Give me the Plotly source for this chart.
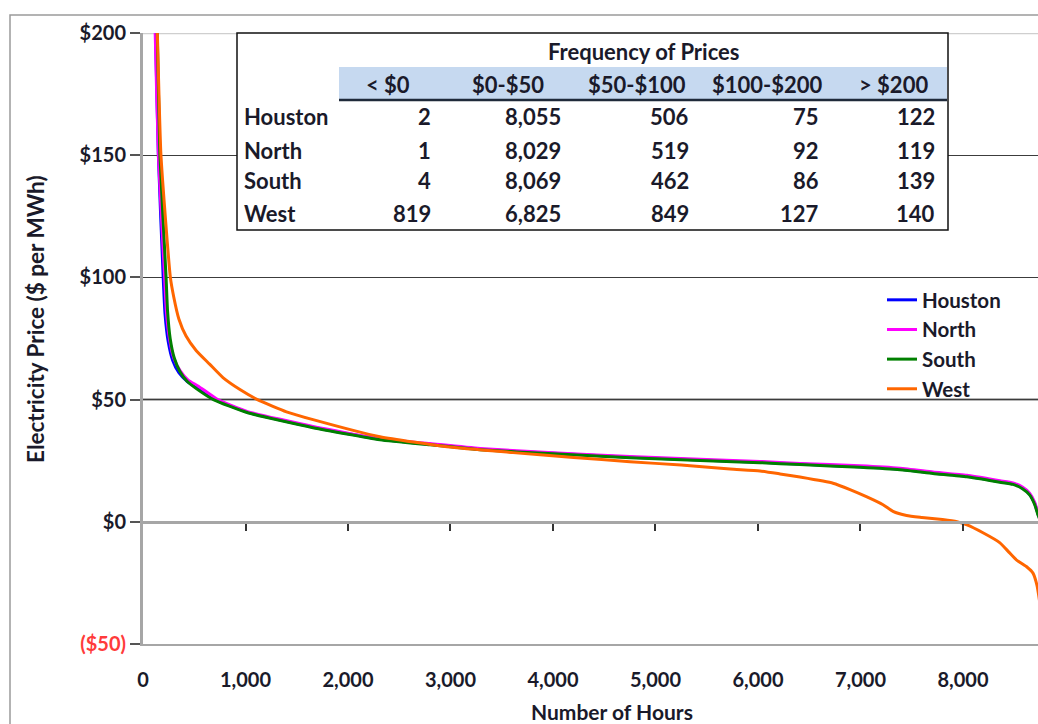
import plotly.graph_objects as go

# ---------------- data ----------------
houston_hours = [60, 100, 122, 150, 197, 215, 245, 290, 350, 430, 520, 703, 1015, 1659, 2312, 2800, 3288, 4000,
                 4751, 5500, 6020, 6410, 6995, 7385, 7707, 8039, 8361, 8488, 8580, 8650, 8700, 8730, 8758, 8760]
houston_price = [400, 240, 200, 150, 100, 85, 74, 66, 61, 57.5, 55, 50, 44.9, 38.7, 33.8, 31.7, 29.7, 28.0,
                 26.4, 25.2, 24.4, 23.6, 22.5, 21.5, 20.0, 18.6, 16.4, 15.5, 13.8, 11.3, 7.5, 3.5, 0, -1]

north_hours = [60, 98, 119, 150, 211, 228, 258, 300, 360, 440, 540, 730, 1015, 1659, 2312, 2800, 3288, 4000,
               4751, 5500, 6020, 6410, 6995, 7385, 7707, 8039, 8361, 8488, 8580, 8650, 8700, 8730, 8759, 8760]
north_price = [400, 240, 200, 150, 100, 86, 75, 67, 62, 58, 55.5, 50, 45.2, 39.0, 34.0, 32.0, 30.0, 28.3,
               26.7, 25.5, 24.7, 23.9, 22.9, 21.9, 20.4, 19.0, 16.8, 15.9, 14.2, 11.7, 8.0, 4.0, 0, -1]

south_hours = [60, 110, 139, 165, 225, 240, 265, 305, 360, 430, 520, 687, 1015, 1659, 2312, 2800, 3288, 4000,
               4751, 5500, 6020, 6410, 6995, 7385, 7707, 8039, 8361, 8488, 8580, 8650, 8700, 8730, 8756, 8760]
south_price = [400, 240, 200, 150, 100, 86, 75, 67, 61.5, 57.5, 54.5, 50, 44.7, 38.5, 33.6, 31.5, 29.5, 27.8,
               26.2, 25.0, 24.2, 23.4, 22.3, 21.3, 19.8, 18.4, 16.2, 15.3, 13.5, 11.0, 7.0, 3.0, 0, -5]

west_hours = [60, 110, 140, 175, 267, 300, 350, 420, 520, 650, 780, 950, 1116, 1400, 1659, 2312, 2966, 3610,
              4200, 4751, 5250, 5727, 6020, 6215, 6410, 6732, 6898, 7063, 7220, 7317, 7450, 7600, 7800, 7941,
              8039, 8195, 8361, 8450, 8527, 8624, 8683, 8722, 8760]
west_price = [400, 250, 200, 150, 100, 92, 83, 76, 70, 64.5, 59, 54, 50, 45, 41.8, 34.8, 30.7, 28.3,
              26.3, 24.6, 23.2, 21.6, 20.8, 19.6, 18.3, 15.8, 13.2, 10.2, 7.0, 4.3, 2.6, 1.8, 0.9, 0,
              -1.3, -4.5, -8.6, -12.5, -15.8, -18.5, -21.0, -26.0, -36]

series_names = ["Houston", "North", "South", "West"]
series_colors = ["#0000ff", "#ff00ff", "#008000", "#ff6600"]

x_tick_vals = [0, 1000, 2000, 3000, 4000, 5000, 6000, 7000, 8000]
x_tick_text = ["0", "1,000", "2,000", "3,000", "4,000", "5,000", "6,000", "7,000", "8,000"]
y_tick_vals = [-50, 0, 50, 100, 150, 200]
y_tick_text = ['<span style="color:#ff3b3b">($50)</span>', "$0", "$50", "$100", "$150", "$200"]

table_title = "Frequency of Prices"
table_cols = ["< $0", "$0-$50", "$50-$100", "$100-$200", "> $200"]
table_rows = ["Houston", "North", "South", "West"]
table_values = [
    [2, 8055, 506, 75, 122],
    [1, 8029, 519, 92, 119],
    [4, 8069, 462, 86, 139],
    [819, 6825, 849, 127, 140],
]

# ---------------- layout geometry ----------------
W, H = 1038, 724
L, R, T, B = 143, 0, 33, 80
PW, PH = W - L - R, H - T - B
FONT = "Lato"
TXT = "#1a1a2a"


def px(xp):
    return (xp - L) / PW


def py(yp):
    return (H - B - yp) / PH


fig = go.Figure()
all_h = [houston_hours, north_hours, south_hours, west_hours]
all_p = [houston_price, north_price, south_price, west_price]
for name, col, hh, pp in zip(series_names, series_colors, all_h, all_p):
    fig.add_trace(go.Scatter(x=hh, y=pp, mode="lines", name=name,
                             line=dict(color=col, width=3, shape="spline", smoothing=0.5),
                             hoverinfo="skip"))

# dummy trace for the overlay axis at $0
fig.add_trace(go.Scatter(x=[], y=[], xaxis="x2", yaxis="y", showlegend=False, hoverinfo="skip"))

shapes = []
# outer chart border
shapes.append(dict(type="rect", xref="paper", yref="paper", x0=px(10), x1=1.05, y0=-0.3, y1=py(15),
                   line=dict(color="#9a9a9a", width=1.5), layer="below"))
# special gridlines
shapes.append(dict(type="line", xref="paper", yref="y", x0=0, x1=1, y0=50, y1=50,
                   line=dict(color="#9c9c9c", width=2.5), layer="between"))
shapes.append(dict(type="line", xref="paper", yref="y", x0=0, x1=1, y0=200, y1=200,
                   line=dict(color="#cfcfcf", width=2.5), layer="between"))
# table box
shapes.append(dict(type="rect", xref="paper", yref="paper", x0=px(237), x1=px(948), y0=py(230), y1=py(33),
                   fillcolor="white", line=dict(color="#111111", width=1.5), layer="above"))
shapes.append(dict(type="rect", xref="paper", yref="paper", x0=px(339), x1=px(947), y0=py(100), y1=py(67),
                   fillcolor="#c6d9f0", line=dict(width=0), layer="above"))
shapes.append(dict(type="line", xref="paper", yref="paper", x0=px(339), x1=px(947), y0=py(100), y1=py(100),
                   line=dict(color="#1f2a3a", width=2.5), layer="above"))

ann = []
fs = 22
ann.append(dict(text="<b>" + table_title + "</b>", x=px(644), y=py(52), xref="paper", yref="paper",
                showarrow=False, xanchor="center", yanchor="middle", font=dict(family=FONT, size=fs, color=TXT)))
col_centers = [388, 508, 637, 767, 893]
col_rights = [433, 563, 691, 821, 937]
row_ys = [116, 150, 181, 213]
for c, cx in zip(table_cols, col_centers):
    ann.append(dict(text="<b>" + c + "</b>", x=px(cx), y=py(84), xref="paper", yref="paper",
                    showarrow=False, xanchor="center", yanchor="middle", font=dict(family=FONT, size=fs, color=TXT)))
for r, ry, vals in zip(table_rows, row_ys, table_values):
    ann.append(dict(text="<b>" + r + "</b>", x=px(242), y=py(ry), xref="paper", yref="paper",
                    showarrow=False, xanchor="left", yanchor="middle", font=dict(family=FONT, size=fs, color=TXT)))
    for v, rx in zip(vals, col_rights):
        ann.append(dict(text="<b>" + f"{v:,}" + "</b>", x=px(rx), y=py(ry), xref="paper", yref="paper",
                        showarrow=False, xanchor="right", yanchor="middle",
                        font=dict(family=FONT, size=fs, color=TXT)))
# axis titles
ann.append(dict(text="<b>Number of Hours</b>", x=px(612), y=py(711), xref="paper", yref="paper",
                showarrow=False, xanchor="center", yanchor="middle", font=dict(family=FONT, size=21, color=TXT)))
ann.append(dict(text="<b>Electricity Price ($ per MWh)</b>", x=px(35), y=py(319), xref="paper", yref="paper",
                showarrow=False, xanchor="center", yanchor="middle", textangle=-90,
                font=dict(family=FONT, size=22.5, color=TXT)))

fig.update_layout(
    width=W, height=H, margin=dict(l=L, r=R, t=T, b=B, autoexpand=False),
    paper_bgcolor="white", plot_bgcolor="white",
    showlegend=True,
    legend=dict(x=px(882), y=py(280), xanchor="left", yanchor="top", bgcolor="rgba(0,0,0,0)",
                font=dict(family=FONT, size=20.5, color=TXT, weight="bold"), itemwidth=30,
                tracegroupgap=0),
    xaxis=dict(range=[0, 8732], tickmode="array", tickvals=x_tick_vals, ticktext=x_tick_text,
               showgrid=False, zeroline=False, showline=True, linecolor="#a6a6a6", linewidth=2,
               ticks="", ticklabelstandoff=17, automargin=False,
               tickfont=dict(family=FONT, size=20, color=TXT, weight="bold")),
    xaxis2=dict(range=[0, 8732], overlaying="x", anchor="free", position=0.2, side="bottom",
                tickmode="array", tickvals=x_tick_vals[1:], showticklabels=False,
                showgrid=False, zeroline=False, showline=True, linecolor="#a6a6a6", linewidth=2.5,
                ticks="outside", ticklen=7, tickwidth=1.5, tickcolor="#333333"),
    yaxis=dict(range=[-50, 200], tickmode="array", tickvals=y_tick_vals, ticktext=y_tick_text,
               showgrid=True, gridcolor="#3c3c3c", gridwidth=1, zeroline=False,
               showline=True, linecolor="#a6a6a6", linewidth=3, automargin=False,
               ticks="outside", ticklen=10, tickcolor="#555555", tickwidth=1.5,
               tickfont=dict(family=FONT, size=20, color=TXT, weight="bold")),
    shapes=shapes, annotations=ann,
)

fig.write_html("out.html", config={"displayModeBar": False},
               post_script="document.body.style.margin='0px';document.body.style.overflow='hidden';")
